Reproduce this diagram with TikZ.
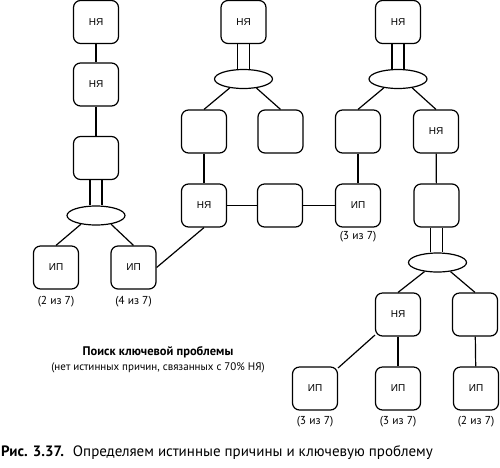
\documentclass[tikz,border=0pt]{standalone}
\usepackage{fontspec}
\setmainfont{PT Sans}
\newfontfamily\boxfont{Liberation Sans}
\usetikzlibrary{shapes.geometric}
\tikzset{
  bx/.style={draw, line width=1.2pt, rounded corners=7pt, minimum width=45pt, minimum height=43pt, inner sep=0pt, font=\boxfont\fontsize{10}{11}\selectfont},
  ell/.style={draw, ellipse, line width=1.2pt, minimum width=58pt, minimum height=19pt, inner sep=0pt},
  cn/.style={line width=1.2pt},
  lbl/.style={font=\fontsize{11.5}{12}\selectfont, inner sep=0pt},
}
\begin{document}
\begin{tikzpicture}[x=1pt,y=-1pt]
\useasboundingbox (0,0) rectangle (500,467);
% column A
\node[bx] (A1) at (96,22) {НЯ};
\node[bx] (A2) at (96,84.5) {НЯ};
\node[bx] (A3) at (96,158) {};
\node[ell] (eA) at (96,215.5) {};
\node[bx] (ipA1) at (56,267.5) {ИП};
\node[bx] (ipA2) at (133.5,267.5) {ИП};
\node[lbl] (tA1) at (56,302) {(2 из 7)};
\node[lbl] (tA2) at (133.5,302) {(4 из 7)};
% column B
\node[bx] (B1) at (243.5,22) {НЯ};
\node[ell] (eB) at (243.5,79) {};
\node[bx] (B2) at (204,131.5) {};
\node[bx] (B3) at (280.5,131.5) {};
\node[bx] (B4) at (204,205.5) {НЯ};
\node[bx] (B5) at (280,205.5) {};
% column C
\node[bx] (C1) at (398,22) {НЯ};
\node[ell] (eC) at (398,79) {};
\node[bx] (C2) at (358,131.5) {};
\node[bx] (C3) at (436,131.5) {НЯ};
\node[bx] (C4) at (358,205.5) {ИП};
\node[lbl] (tC4) at (358,237) {(3 из 7)};
% column D
\node[bx] (D1) at (436.5,205.5) {};
\node[ell] (eD) at (437.5,262.5) {};
\node[bx] (D2) at (398,314.5) {НЯ};
\node[bx] (D3) at (475,314.5) {};
\node[bx] (ipD1) at (315,388.5) {ИП};
\node[bx] (ipD2) at (398,388.5) {ИП};
\node[bx] (ipD3) at (476,388.5) {ИП};
\node[lbl] (tD1) at (315,422) {(3 из 7)};
\node[lbl] (tD2) at (398,422) {(3 из 7)};
\node[lbl] (tD3) at (476,422) {(2 из 7)};
% texts
\node[lbl, align=center, font=\fontsize{11}{15}\selectfont] (note) at (158,359.5) {{\bfseries\fontsize{12.5}{15}\selectfont Поиск ключевой проблемы}\\(нет истинных причин, связанных с 70\% НЯ)};
\node[anchor=west, inner sep=0pt, font=\fontsize{15}{16}\selectfont] (cap) at (1,453) {\textbf{Рис. 3.37.}\hspace{0.6em}Определяем истинные причины и ключевую проблему};
% connectors
\draw[cn] (A1) -- (A2);
\draw[cn] (A2) -- (A3);
\draw[cn] ([xshift=-6pt]A3.south) -- ([xshift=-6pt]A3.south |- eA.north);
\draw[cn] ([xshift=6pt]A3.south) -- ([xshift=6pt]A3.south |- eA.north);
\draw[cn] (eA.210) -- (ipA1.north);
\draw[cn] (eA.330) -- (ipA2.north);
\draw[cn] (ipA2.east) -- (B4.south);
\draw[cn] ([xshift=-6pt]B1.south) -- ([xshift=-6pt]B1.south |- eB.north);
\draw[cn] ([xshift=6pt]B1.south) -- ([xshift=6pt]B1.south |- eB.north);
\draw[cn] (eB.213) -- (B2.north);
\draw[cn] (eB.325) -- (B3.north);
\draw[cn] (B2) -- (B4);
\draw[cn] (B4) -- (B5);
\draw[cn] (B5) -- (C4);
\draw[cn] (C2) -- (C4);
\draw[cn] ([xshift=-6pt]C1.south) -- ([xshift=-6pt]C1.south |- eC.north);
\draw[cn] ([xshift=6pt]C1.south) -- ([xshift=6pt]C1.south |- eC.north);
\draw[cn] (eC.212) -- (C2.north);
\draw[cn] (eC.328) -- (C3.north);
\draw[cn] (C3) -- (D1);
\draw[cn] ([xshift=-6pt]D1.south) -- ([xshift=-6pt]D1.south |- eD.north);
\draw[cn] ([xshift=6pt]D1.south) -- ([xshift=6pt]D1.south |- eD.north);
\draw[cn] (eD.215) -- (D2.north);
\draw[cn] (eD.325) -- (D3.north);
\draw[cn] (D2) -- (ipD1);
\draw[cn] (D2) -- (ipD2);
\draw[cn] (D3) -- (ipD3);
\end{tikzpicture}
\end{document}
